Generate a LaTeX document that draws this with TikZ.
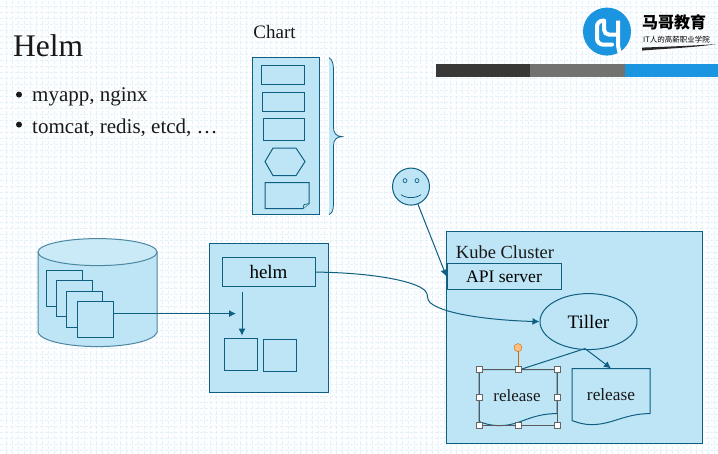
\documentclass[tikz,border=0pt]{standalone}
\usepackage{fontspec}
\usepackage{tikz}
\usetikzlibrary{positioning,calc,arrows.meta,shapes.geometric}
\setmainfont{Liberation Serif}
\newfontfamily\cjk{Noto Sans CJK SC}
\definecolor{panelfill}{HTML}{BDE5F5}
\definecolor{panelline}{HTML}{0F5F82}
\definecolor{gridline}{HTML}{E6F1F7}
\definecolor{logoblue}{HTML}{1B95E0}
\definecolor{bardark}{HTML}{383936}
\definecolor{barmid}{HTML}{727370}
\newcommand{\px}[1]{\fontsize{#1}{#1}\selectfont}
\tikzset{
  panel/.style={draw=panelline,fill=panelfill,line width=1pt},
  flow/.style={draw=panelline,line width=1pt,-{Latex[length=7pt,width=7pt]}},
  handle/.style={draw=black!60,fill=white,line width=.6pt,inner sep=0pt,minimum size=6pt},
  tag/.style={inner sep=0pt,text=black!90}
}
\begin{document}
\begin{tikzpicture}[x=1pt,y=-1pt,font=\px{18}]
  \useasboundingbox (0,-.6) rectangle (718,453.4);
  \fill[white!97!panelfill] (0,-.6) rectangle (718,453.4);
  \foreach \gx in {6,12,...,714} {\draw[gridline,line width=.4pt,densely dashed] (\gx,0) -- (\gx,454);}
  \foreach \gy in {6,12,...,450} {\draw[gridline,line width=.4pt,densely dashed] (0,\gy) -- (718,\gy);}
  % title and list
  \node[tag,anchor=west] (title) at (13,45) {\px{31.5}Helm};
  \node[tag,anchor=west] (item1) at (32,96) {\px{21}myapp, nginx};
  \node[tag,anchor=west] (item2) at (32,127) {\px{21}tomcat, redis, etcd, \dots};
  \node[fill=black!90,circle,inner sep=0pt,minimum size=6pt] (dot1) at (19,94) {};
  \node[fill=black!90,circle,inner sep=0pt,minimum size=6pt] (dot2) at (19,124) {};
  \node[tag] (charttitle) at (274.5,31) {\px{19}Chart};
  % logo
  \fill[bardark] (436,63) rectangle (530,76);
  \fill[barmid] (530,63) rectangle (625,76);
  \fill[logoblue] (625,63) rectangle (718,76);
  \fill[logoblue] (607,31) circle (24);
  \draw[white,line width=4pt,line cap=round,rounded corners=6pt] (612,44) -- (597,44) -- (597,20) -- (604,20);
  \draw[white,line width=4pt,rounded corners=5pt] (604,20) -- (604,34) -- (618,34);
  \draw[white,line width=4pt,rounded corners=5pt] (618,20) -- (618,48) -- (621,55);
  \node[inner sep=0pt,anchor=west] (logotext) at (642,22) {\cjk\px{16}\bfseries 马哥教育};
  \node[inner sep=0pt,anchor=west] (logosub) at (643,39.5) {\cjk\px{7.5}IT人的高薪职业学院};
  \fill[black!85] (642,47) .. controls (670,46) and (695,45) .. (716,43.5) .. controls (695,47) and (665,48) .. (642,50) -- cycle;
  % chart
  \node[panel,minimum width=67pt,minimum height=157pt,inner sep=0pt] (chart) at (285.5,135.5) {};
  \node[panel,minimum width=43pt,minimum height=19pt,inner sep=0pt] (tpl1) at (282.5,74.5) {};
  \node[panel,minimum width=42pt,minimum height=19pt,inner sep=0pt] (tpl2) at (283,101.5) {};
  \node[panel,minimum width=41pt,minimum height=22pt,inner sep=0pt] (tpl3) at (283.5,129) {};
  \draw[panel] (265,161) -- (273,147.5) -- (296,147.5) -- (305,161) -- (296,175) -- (273,175) -- cycle;
  \draw[panel] (265,182) -- (309,182) -- (309,203) -- (303,208) -- (265,208) -- cycle;
  \draw[panel,line width=.7pt] (303,208) -- (304,204) -- (309,203);
  \fill[panelfill] (329,57) .. controls (333,60) and (333,63) .. (333,68) -- (333,127) .. controls (333,132) and (336,136) .. (342,136) .. controls (336,136) and (333,140) .. (333,145) -- (333,204) .. controls (333,209) and (333,212) .. (329,214) -- cycle;
  \draw[panelline,line width=.8pt] (329,57) .. controls (333,60) and (333,63) .. (333.5,68) -- (333.5,127) .. controls (333.5,132) and (336,136) .. (342,136) .. controls (336,136) and (333.5,140) .. (333.5,145) -- (333.5,204) .. controls (333,209) and (333,212) .. (329,214);
  % repository
  \draw[panel,draw=panelline!75] (38,251) -- (38,332) .. controls (42,341) and (70,346) .. (97.5,346) .. controls (125,346) and (153,341) .. (157,332) -- (157,251);
  \fill[panelfill!80!white] (97.5,251.5) ellipse (59.5 and 13.5);
  \draw[panelline!75,line width=1pt] (97.5,251.5) ellipse (59.5 and 13.5);
  \node[panel,minimum size=36pt,inner sep=0pt] (doc1) at (64,287.5) {};
  \node[panel,minimum size=36pt,inner sep=0pt] (doc2) at (74,297.5) {};
  \node[panel,minimum size=36pt,inner sep=0pt] (doc3) at (84,308.5) {};
  \node[panel,minimum size=36pt,inner sep=0pt] (doc4) at (95,318.5) {};
  % helm client
  \node[panel,minimum width=119pt,minimum height=149pt,inner sep=0pt] (client) at (268.5,317.5) {};
  \node[panel,minimum width=93pt,minimum height=29pt,inner sep=0pt] (helm) at (268.5,271.5) {\px{19}helm};
  \node[panel,minimum width=33pt,minimum height=32pt,inner sep=0pt] (pkg1) at (240.5,354) {};
  \node[panel,minimum width=33pt,minimum height=32pt,inner sep=0pt] (pkg2) at (279.5,355) {};
  \coordinate (fetchend) at (236,313);
  \coordinate (unpackstart) at (242,291);
  \coordinate (unpackend) at (242,335);
  \draw[flow] (doc4.east |- fetchend) -- (fetchend);
  \draw[flow] (unpackstart) -- (unpackend);
  % cluster
  \node[panel,minimum width=256pt,minimum height=212pt,inner sep=0pt] (kube) at (574,337) {};
  \node[tag] (kubetitle) at (505,252) {\px{18.5}Kube Cluster};
  \node[panel,minimum width=114pt,minimum height=26pt,inner sep=0pt] (api) at (504,276) {\px{17.6}API server};
  \node[panel,ellipse,minimum width=97pt,minimum height=56pt,inner sep=0pt] (tiller) at (588.5,321) {\px{19}Tiller};
  \node[tag,minimum width=79pt,minimum height=56pt] (rel1) at (518,397) {};
  \node[tag,minimum width=78pt,minimum height=56pt] (rel2) at (611,396) {};
  \draw[panel] (479,369) -- (557,369) -- (557,413) .. controls (530,413) and (520,425) .. (500,425) .. controls (490,425) and (485,423) .. (479,421) -- cycle;
  \draw[panel] (572,368) -- (650,368) -- (650,413) .. controls (625,413) and (612,424) .. (592,424) .. controls (583,424) and (578,422) .. (572,420) -- cycle;
  \node[tag] (rel1text) at (517,395) {\px{17}release};
  \node[tag] (rel2text) at (611,394) {\px{17.3}release};
  % user
  \node[panel,circle,minimum size=37pt,inner sep=0pt] (user) at (411,186) {};
  \draw[panelline,line width=.7pt] (405,180) circle (2) (417,180) circle (2);
  \draw[panelline,line width=.8pt] (401,194) .. controls (406,198) and (416,198) .. (421,194);
  \draw[flow] (user) -- (api.west);
  \draw[flow] (helm.east) .. controls (370,272) and (415,280) .. (425,290) .. controls (429,294) and (426,298) .. (430,302) .. controls (445,315) and (500,320) .. (tiller.west);
  \coordinate (tillerfoot) at (585,348);
  \draw[flow] (tillerfoot) -- (rel2.north);
  \draw[draw=panelline,line width=1pt] (tillerfoot) -- (520,369);
  % selection of the first release
  \draw[black!65,line width=.8pt] (479,369) rectangle (557,425);
  \draw[draw=orange!80!black,line width=.8pt] (518,369) -- (518,347);
  \node[circle,draw=orange!80!black,fill=orange!50,inner sep=0pt,minimum size=8pt] (rotate) at (518,347) {};
  \foreach \hx/\hy in {479/369,518/369,557/369,479/397,557/397,479/425,518/425,557/425} {\node[handle] at (\hx,\hy) {};}
\end{tikzpicture}
\end{document}
